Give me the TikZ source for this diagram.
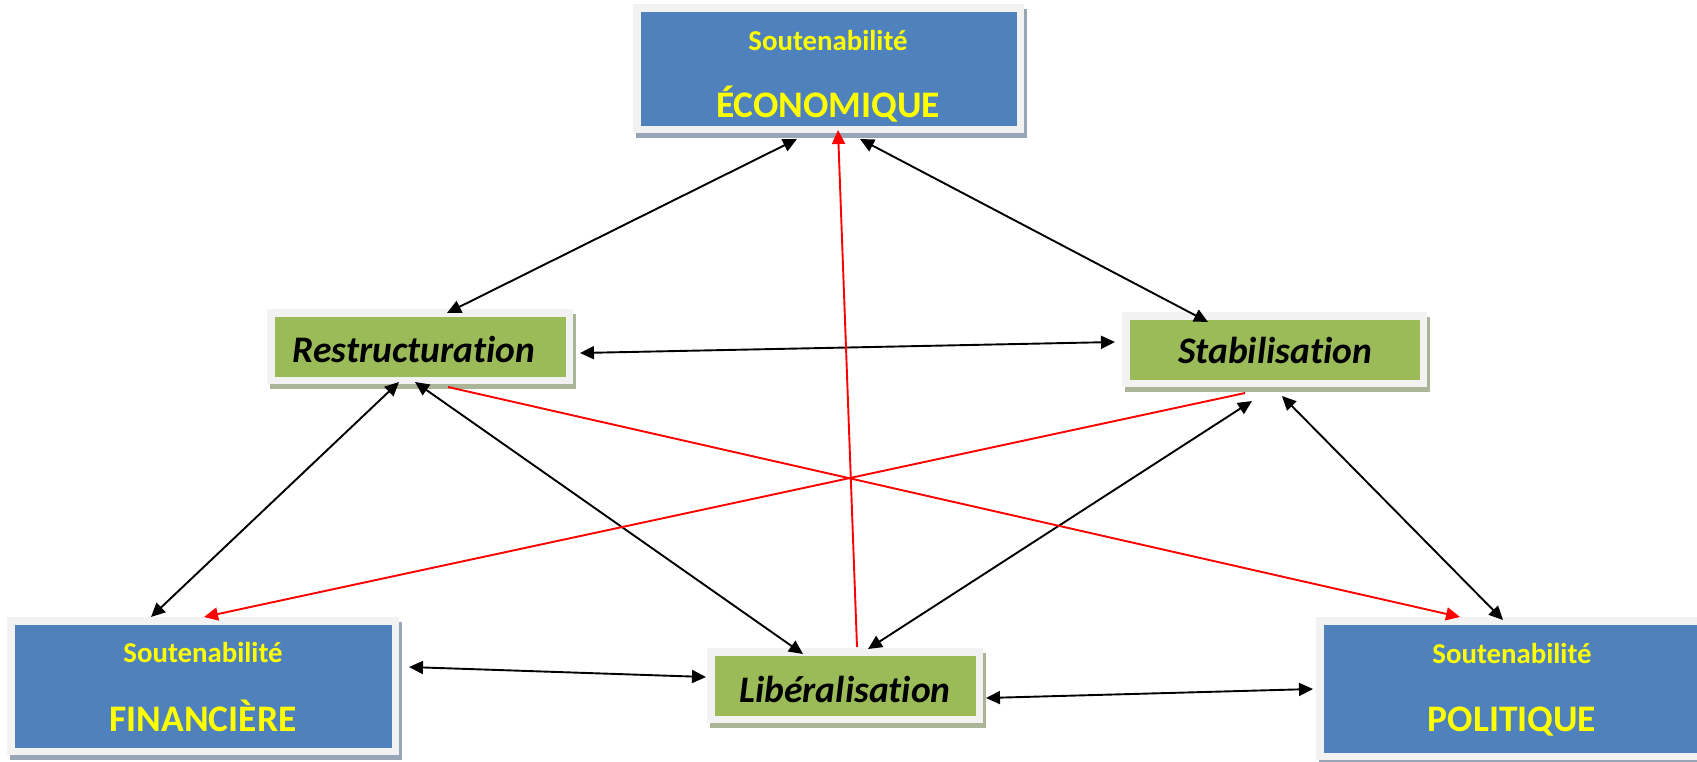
\documentclass[tikz,border=0pt]{standalone}
\usepackage{fontspec}
\setmainfont{Carlito}[Ligatures={NoCommon,NoRare,NoContextual}]
\usetikzlibrary{arrows.meta,backgrounds}

\definecolor{boxblue}{HTML}{4F81BD}
\definecolor{boxgreen}{HTML}{9BBB59}
\definecolor{framegray}{HTML}{F2F2F2}
\definecolor{blueshadow}{HTML}{97A5B6}
\definecolor{greenshadow}{HTML}{AAB496}
\definecolor{titleyellow}{HTML}{FFFF00}

\begin{document}
\begin{tikzpicture}[x=1pt,y=-1pt,
  frame/.style={draw=framegray, line width=7.5pt, inner sep=0pt},
  bluebox/.style={frame, fill=boxblue},
  greenbox/.style={frame, fill=boxgreen},
  subtitle/.style={anchor=base, inner sep=0pt, text=titleyellow, font=\bfseries\fontsize{28.8}{31}\selectfont},
  title/.style={anchor=base, inner sep=0pt, text=titleyellow, font=\bfseries\fontsize{37.5}{40}\selectfont},
  action/.style={anchor=base, inner sep=0pt, text=black, font=\bfseries\itshape\fontsize{37.5}{40}\selectfont},
  tip/.tip={Triangle[length=14pt,width=13pt]},
  link/.style={line width=1.9pt, black, tip-tip},
  redlink/.style={line width=1.9pt, red, -tip}
]
\clip (0,0) rectangle (1697,761);
\useasboundingbox (0,0) rectangle (1697,761);

% the three sustainability boxes
\node[bluebox, minimum width=383.5pt, minimum height=121.5pt] (eco) at (828.5,68.5) {};
\node[bluebox, minimum width=384.5pt, minimum height=130.5pt] (fin) at (203,686) {};
\node[bluebox, minimum width=384.5pt, minimum height=135.5pt] (pol) at (1512,688.5) {};

% the three policy boxes
\node[greenbox, minimum width=298.5pt, minimum height=67.5pt] (res) at (420,346.5) {};
\node[greenbox, minimum width=297.5pt, minimum height=67.5pt] (sta) at (1274.5,349.5) {};
\node[greenbox, minimum width=268.5pt, minimum height=67.5pt] (lib) at (845,685.5) {};

% offset shadows
\begin{scope}[on background layer]
  \foreach \b in {eco,fin,pol}
    \fill[blueshadow] ([shift={(3,5)}]\b.north west) rectangle ([shift={(3,5)}]\b.south east);
  \foreach \b in {res,sta,lib}
    \fill[greenshadow] ([shift={(3,5)}]\b.north west) rectangle ([shift={(3,5)}]\b.south east);
\end{scope}

% labels
\node[subtitle] (ecoA) at (828,50) {Soutenabilité};
\node[title] (ecoB) at (828,117) {ÉCONOMIQUE};
\node[subtitle] (finA) at (203,662) {Soutenabilité};
\node[title] (finB) at (203,731) {FINANCIÈRE};
\node[subtitle] (polA) at (1512,663) {Soutenabilité};
\node[title] (polB) at (1512,731) {POLITIQUE};
\node[action] (resT) at (414,362) {Restructuration};
\node[action] (staT) at (1275,363) {Stabilisation};
\node[action] (libT) at (845,702) {Libéralisation};

% two-way links
\draw[link] ([shift={(-31.5,6)}]eco.south) -- ([shift={(27,4)}]res.north);
\draw[link] ([shift={(31.5,6)}]eco.south) -- ([shift={(-66.5,10)}]sta.north);
\draw[link] ([shift={(7,6.5)}]res.east) -- ([shift={(-7,-7.5)}]sta.west);
\draw[link] ([shift={(-21,-2)}]res.south) -- ([shift={(-52,0)}]fin.north);
\draw[link] ([shift={(-5,-2)}]res.south) -- ([shift={(-42,6)}]lib.north);
\draw[link] ([shift={(23,1)}]lib.north) -- ([shift={(-22.5,14)}]sta.south);
\draw[link] ([shift={(7.5,9)}]sta.south) -- ([shift={(-9,3)}]pol.north);
\draw[link] ([shift={(10,-19)}]fin.east) -- ([shift={(-1,-8.5)}]lib.west);
\draw[link] ([shift={(3,12.5)}]lib.east) -- ([shift={(-3,0.5)}]pol.west);

% one-way links
\draw[redlink] ([shift={(12,-1)}]lib.north) -- ([shift={(9.5,-3)}]eco.south);
\draw[redlink] ([shift={(28,3)}]res.south) -- ([shift={(-52,0)}]pol.north);
\draw[redlink] ([shift={(-29.5,6)}]sta.south) -- ([shift={(1,0)}]fin.north);
\end{tikzpicture}
\end{document}
